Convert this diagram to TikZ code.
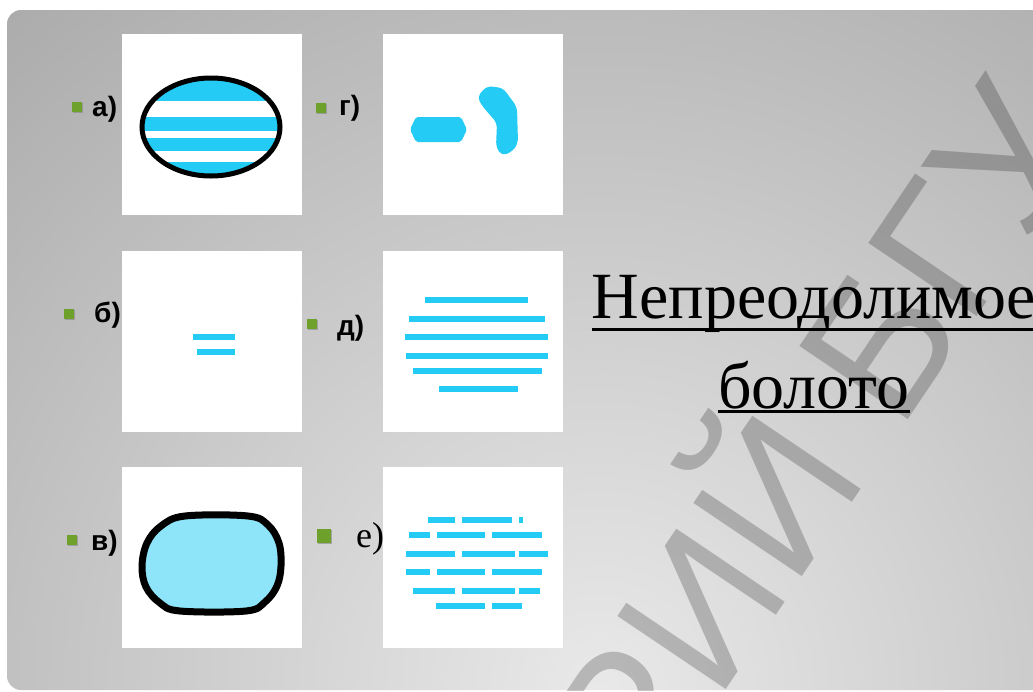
\documentclass[tikz,border=0pt]{standalone}
\usepackage{fontspec}
\setmainfont{Liberation Serif}
\newfontfamily\labelfont{Liberation Sans}
\usetikzlibrary{shadows}
\definecolor{panelgray}{RGB}{150,150,150}
\definecolor{panellight}{RGB}{233,233,233}
\definecolor{waterblue}{RGB}{36,204,245}
\definecolor{palewater}{RGB}{142,228,248}
\definecolor{bulletgreen}{RGB}{110,160,44}
\tikzset{
  picbox/.style={fill=white, minimum width=180pt, minimum height=181pt, inner sep=0pt},
  bullet/.style={fill=bulletgreen, minimum size=10pt, inner sep=0pt,
    drop shadow={shadow xshift=1.2pt, shadow yshift=-1.2pt, opacity=0.55}},
  letter/.style={font=\labelfont\bfseries\fontsize{28}{32}\selectfont, inner sep=0pt, anchor=west},
  titletext/.style={font=\fontsize{66}{70}\selectfont, inner sep=0pt, anchor=base},
  stripe/.style={draw=waterblue, line width=6.5pt},
}
\begin{document}
\begin{tikzpicture}[x=1pt, y=-1pt]
  \useasboundingbox (0,0) rectangle (1033,691);
  \fill[white] (0,0) rectangle (1033,691);
  \begin{scope}
    \clip[rounded corners=14pt] (7,10) rectangle (1060,690);
    \shade[inner color=panellight, outer color=panelgray] (600,690) circle (1220);

    \node[picbox] (boxA) at (211.5,124.5) {};
    \node[picbox] (boxG) at (473,124) {};
    \node[picbox] (boxB) at (212,341.5) {};
    \node[picbox] (boxD) at (473,341) {};
    \node[picbox] (boxV) at (212,557.5) {};
    \node[picbox] (boxE) at (473,557.5) {};

    \begin{scope}
      \clip (211,127) ellipse (69 and 49);
      \foreach \ya/\yb in {76/101, 117/131, 138/151, 162/180}
        \fill[waterblue] (140,\ya) rectangle (282,\yb);
    \end{scope}
    \draw[line width=5pt] (211,127) ellipse (69 and 49);

    \fill[waterblue, rounded corners=2pt] (410,129.5) -- (416,117) -- (461,117) -- (467,129.5) -- (461,142) -- (416,142) -- cycle;
    \fill[waterblue, rounded corners=5pt] (477,97) -- (483,107) -- (497,123) -- (496,147) -- (502,156)
      -- (513,151) -- (518,143) -- (517,107) -- (503,88) -- (487,86) -- cycle;

    \draw[stripe] (193,337) -- (235,337);
    \draw[stripe] (197,352) -- (235,352);

    \foreach \y/\xa/\xb in {300/425/528, 319/409/545, 337/405/548, 356/406/548, 371/413/542, 389/439/518}
      \draw[stripe] (\xa,\y) -- (\xb,\y);

    \draw[line width=7pt, fill=palewater] plot[smooth cycle, tension=0.6] coordinates {
      (185,516) (248,516) (268,525) (279,543) (281,566) (277,586) (265,602) (246,611)
      (180,611) (160,603) (146,587) (142,566) (147,543) (161,526)};

    \foreach \y/\xa/\xb in {520/428/455, 520/462/512, 520/519/523,
                            535/409/430, 535/437/485, 535/492/542,
                            554/406/455, 554/462/515, 554/519/548,
                            572/406/430, 572/437/485, 572/492/542,
                            591/413/455, 591/462/515, 591/519/540,
                            606/436/485, 606/492/522}
      \draw[stripe] (\xa,\y) -- (\xb,\y);

    \node[bullet] (bulA) at (77,107) {};
    \node[letter] (labA) at (92,109.5) {а)};
    \node[bullet] (bulG) at (321,108) {};
    \node[letter] (labG) at (339,108) {г)};
    \node[bullet] (bulB) at (69,314) {};
    \node[letter] (labB) at (94,315) {б)};
    \node[bullet] (bulD) at (312,324) {};
    \node[letter] (labD) at (337,328) {д)};
    \node[bullet] (bulV) at (72,540) {};
    \node[letter] (labV) at (91,543) {в)};
    \node[bullet, minimum size=14pt] (bulE) at (324,536) {};
    \node[letter, font=\fontsize{36}{40}\selectfont] (labE) at (356,539) {е)};

    \node[titletext] (title1) at (814,318) {Непреодолимое};
    \node[titletext] (title2) at (814,408) {болото};
    \draw[line width=3pt] ([yshift=-11pt]title1.base west) -- ([yshift=-11pt]title1.base east);
    \draw[line width=3pt] ([yshift=-3.5pt]title2.base west) -- ([yshift=-3.5pt]title2.base east);

    \node[font=\labelfont\fontsize{190}{190}\selectfont, text=black, text opacity=0.21,
      inner sep=0pt, rotate=56, anchor=base east] (stamp) at (1094,144) {РЕПОЗИТОРИЙ БГУ};
  \end{scope}
\end{tikzpicture}
\end{document}
